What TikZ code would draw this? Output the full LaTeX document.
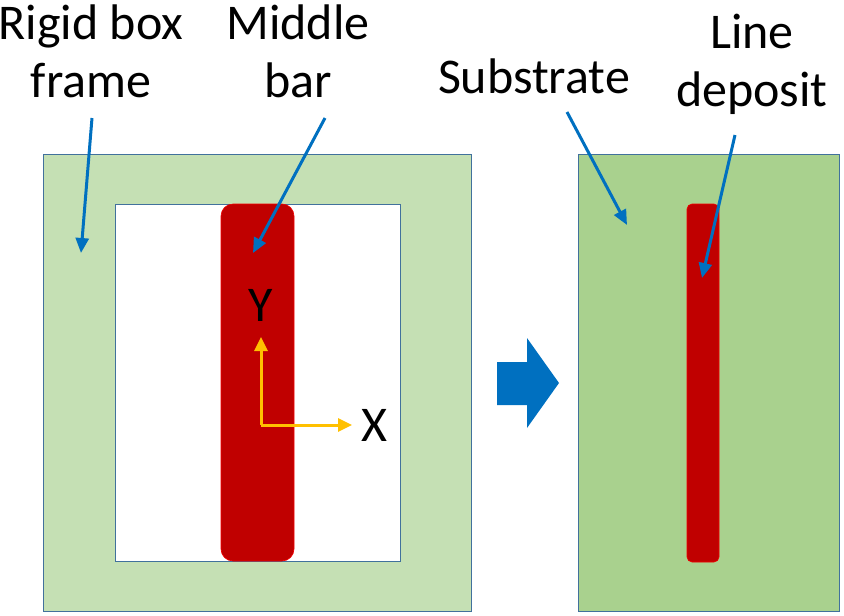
\documentclass[tikz,border=0pt]{standalone}
\usepackage{fontspec}
\setmainfont{Carlito}
\usetikzlibrary{arrows.meta, positioning}
\definecolor{framegreen}{HTML}{C5E0B4}
\definecolor{subgreen}{HTML}{A9D18E}
\definecolor{barred}{HTML}{C00000}
\definecolor{callblue}{HTML}{0070C0}
\definecolor{edgeblue}{HTML}{41719C}
\definecolor{axisyellow}{HTML}{FFC000}
\begin{document}
\begin{tikzpicture}[
  x=1pt, y=-1pt,
  font=\fontsize{50}{58}\selectfont,
  plate/.style={draw=edgeblue, line width=1pt, inner sep=0pt},
  redbar/.style={fill=barred, draw=red!80!barred, line width=0.6pt, inner sep=0pt},
  lbl/.style={align=center, inner sep=0pt},
  call/.style={-{Triangle[length=15pt, width=13pt]}, draw=callblue, line width=3pt},
  axis/.style={-{Triangle[length=14pt, width=13pt]}, draw=axisyellow, line width=3pt},
]
\useasboundingbox (0,0) rectangle (844,616);

%% left: rigid frame with middle bar
\node[plate, fill=framegreen, minimum width=428pt, minimum height=457pt] (frame) at (257,382.5) {};
\node[plate, fill=white, minimum width=285pt, minimum height=357pt] (window) at (257.5,382.5) {};
\node[redbar, rounded corners=12pt, minimum width=73pt, minimum height=357pt] (bar) at (257.5,382.5) {};

%% axes
\coordinate (o) at (261,425);
\coordinate (ytip) at (261,337);
\coordinate (xtip) at (352,425);
\draw[axis] (o) -- (ytip);
\draw[axis] (o) -- (xtip);
\node[lbl] (ylab) at (261,305) {Y};
\node[lbl] (xlab) at (374,425) {X};

%% transfer arrow
\fill[callblue] (497,362) -- (527,362) -- (527,338) -- (559,383)
  -- (527,428) -- (527,405) -- (497,405) -- cycle;

%% right: substrate with line deposit
\node[plate, fill=subgreen, minimum width=261pt, minimum height=457pt] (sub) at (708.5,382.5) {};
\node[redbar, rounded corners=5pt, minimum width=32pt, minimum height=358pt] (dep) at (703,383) {};

%% labels
\node[lbl] (framelab) at (91,51) {Rigid box\\frame};
\node[lbl] (barlab) at (298,51) {Middle\\bar};
\node[lbl] (sublab) at (534,76) {Substrate};
\node[lbl] (deplab) at (752,64) {Line\\deposit};

\coordinate (framept) at (81,253);
\coordinate (barpt) at (253,253);
\coordinate (subpt) at (627,225);
\coordinate (deppt) at (702,278);

\draw[call] (92,118) -- (framept);
\draw[call] (325,118) -- (barpt);
\draw[call] (567,112) -- (subpt);
\draw[call] (735,135) -- (deppt);
\end{tikzpicture}
\end{document}
